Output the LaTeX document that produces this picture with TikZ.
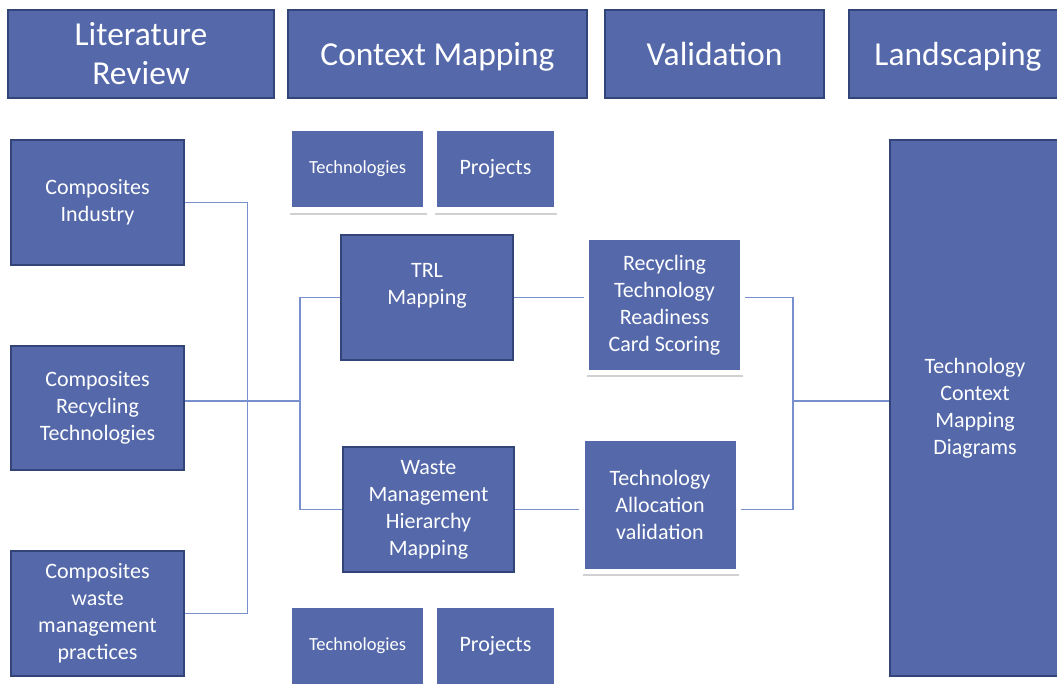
\documentclass[tikz,border=0pt]{standalone}
\usepackage{fontspec}
\setmainfont{Carlito}
\usetikzlibrary{shadows,backgrounds}

\definecolor{boxblue}{RGB}{84,104,170}
\definecolor{boxedge}{RGB}{50,68,120}
\definecolor{linkblue}{RGB}{120,144,206}

\tikzset{
  hdr/.style={draw=boxedge, line width=2.2pt, fill=boxblue, text=white, align=center,
    minimum height=88pt, font=\fontsize{33.5}{39}\selectfont, inner sep=0pt},
  hdrone/.style={hdr, text height=22pt, text depth=0pt},
  blk/.style={draw=boxedge, line width=2.2pt, fill=boxblue, text=white, align=center,
    inner sep=0pt, font=\fontsize{22}{27}\selectfont},
  frm/.style={draw=white, line width=5.5pt, fill=boxblue, text=white, align=center,
    inner sep=0pt, font=\fontsize{22}{27}\selectfont,
    drop shadow={shadow xshift=0.8pt, shadow yshift=-4.5pt, opacity=0.18, fill=black}},
  link/.style={draw=linkblue, line width=1.2pt}
}

\begin{document}
\begin{tikzpicture}[x=1pt,y=-1pt]
\useasboundingbox (0,0) rectangle (1057,688);

% headers
\node[hdr, minimum width=266pt] (litrev) at (141,54) {Literature\\Review};
\node[hdrone, minimum width=299pt] (ctxmap) at (437.5,54) {Context Mapping};
\node[hdrone, minimum width=219pt] (valid) at (714.5,54) {Validation};
\node[hdrone, minimum width=218pt] (landsc) at (958,54) {Landscaping};

% literature review
\node[blk, minimum width=173pt, minimum height=125pt] (compind) at (97.5,202.5) {Composites\\Industry};
\node[blk, minimum width=173pt, minimum height=124pt] (comprec) at (97.5,408) {Composites\\Recycling\\Technologies};
\node[blk, minimum width=173pt, minimum height=125pt] (compwaste) at (97.5,613.5) {Composites\\waste\\management\\practices};

% context mapping
\node[frm, minimum width=137pt, minimum height=82pt, font=\fontsize{18.5}{22}\selectfont] (techtop) at (357.5,169) {Technologies};
\node[frm, minimum width=122pt, minimum height=82pt] (projtop) at (495.5,169) {Projects};
\node[blk, minimum width=172pt, minimum height=125pt] (trl) at (427,297.5) {};
\node[text=white, align=center, font=\fontsize{22}{27}\selectfont] (trltext) at (427,286) {TRL\\Mapping};
\node[blk, minimum width=171pt, minimum height=125pt] (wmh) at (428.5,509.5) {Waste\\Management\\Hierarchy\\Mapping};
\node[frm, minimum width=137pt, minimum height=82pt, font=\fontsize{18.5}{22}\selectfont] (techbot) at (357.5,646) {Technologies};
\node[frm, minimum width=122pt, minimum height=82pt] (projbot) at (495.5,646) {Projects};

% validation
\node[frm, minimum width=156pt, minimum height=135pt] (rtrcs) at (664.5,305) {Recycling\\Technology\\Readiness\\Card Scoring};
\node[frm, minimum width=156.5pt, minimum height=133pt] (tav) at (660,505) {Technology\\Allocation\\validation};

% landscaping
\node[blk, minimum width=170pt, minimum height=536pt] (tcmd) at (975,408) {Technology\\Context\\Mapping\\Diagrams};

\coordinate (ljoin) at (300,401);
\coordinate (rjoin) at (793,401);

\begin{scope}[on background layer]
\draw[link] (compind.east) -- ++(62,0) |- (compwaste.east);
\draw[link] (comprec.east |- ljoin) -- (ljoin);
\draw[link] (trl.west) -| (ljoin) |- (wmh.west);
\draw[link] (trl.east) -- (trl.east -| rtrcs.west);
\draw[link] (wmh.east) -- (wmh.east -| tav.west);
\draw[link] (rtrcs.east |- trl.east) -| (rjoin) |- (tav.east |- wmh.east);
\draw[link] (rjoin) -- (rjoin -| tcmd.west);
\end{scope}
\end{tikzpicture}
\end{document}
